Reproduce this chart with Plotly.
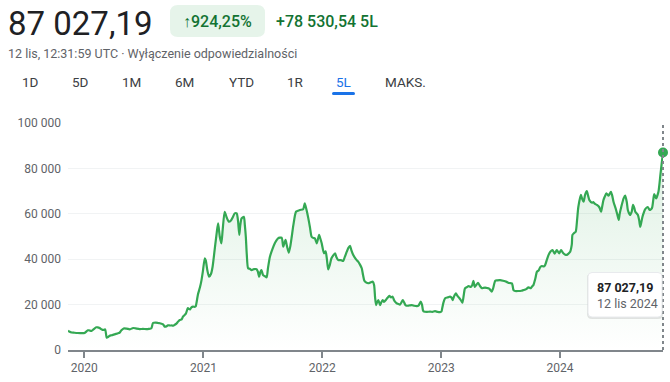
import plotly.graph_objects as go

dates = [
"2019-11-12","2019-11-17","2019-11-23","2019-12-02","2019-12-11","2019-12-24","2020-01-02","2020-01-12","2020-01-17","2020-01-23",
"2020-01-30","2020-02-07","2020-02-11","2020-02-17","2020-02-24","2020-02-28","2020-03-05","2020-03-10","2020-03-14","2020-03-19",
"2020-03-25","2020-04-03","2020-04-12","2020-04-18","2020-04-24","2020-05-01","2020-05-10","2020-05-20","2020-05-30","2020-06-07",
"2020-06-19","2020-06-29","2020-07-10","2020-07-17","2020-07-25","2020-07-30","2020-08-08","2020-08-15","2020-08-20","2020-08-25",
"2020-08-30","2020-09-04","2020-09-09","2020-09-14","2020-09-20","2020-09-26","2020-09-30","2020-10-05","2020-10-10","2020-10-15",
"2020-10-20","2020-10-26","2020-10-30","2020-11-04","2020-11-08","2020-11-14","2020-11-18","2020-11-21","2020-11-25","2020-11-30",
"2020-12-05","2020-12-08","2020-12-15","2020-12-21","2020-12-26","2020-12-30","2021-01-05","2021-01-08","2021-01-13","2021-01-18",
"2021-01-24","2021-01-29","2021-02-05","2021-02-11","2021-02-15","2021-02-20","2021-02-25","2021-03-01","2021-03-07","2021-03-13",
"2021-03-20","2021-03-27","2021-04-01","2021-04-07","2021-04-13","2021-04-17","2021-04-21","2021-04-24","2021-04-28","2021-05-05",
"2021-05-08","2021-05-11","2021-05-14","2021-05-18","2021-05-23","2021-05-29","2021-06-05","2021-06-13","2021-06-17","2021-06-21",
"2021-06-25","2021-06-28","2021-07-03","2021-07-09","2021-07-14","2021-07-18","2021-07-24","2021-08-01","2021-08-08","2021-08-18",
"2021-08-29","2021-09-03","2021-09-10","2021-09-14","2021-09-20","2021-09-25","2021-09-29","2021-10-04","2021-10-12","2021-10-18",
"2021-10-24","2021-11-03","2021-11-08","2021-11-13","2021-11-19","2021-11-24","2021-11-29","2021-12-05","2021-12-09","2021-12-15",
"2021-12-22","2021-12-26","2021-12-30","2022-01-06","2022-01-11","2022-01-15","2022-01-19","2022-01-24","2022-01-29","2022-02-09",
"2022-02-13","2022-02-19","2022-02-27","2022-03-06","2022-03-11","2022-03-17","2022-03-22","2022-03-27","2022-03-31","2022-04-06",
"2022-04-14","2022-04-21","2022-04-27","2022-05-02","2022-05-06","2022-05-10","2022-05-15","2022-05-22","2022-05-29","2022-06-05",
"2022-06-09","2022-06-12","2022-06-15","2022-06-18","2022-06-22","2022-06-27","2022-07-01","2022-07-05","2022-07-09","2022-07-15",
"2022-07-20","2022-07-26","2022-07-31","2022-08-05","2022-08-09","2022-08-12","2022-08-17","2022-08-22","2022-08-27","2022-09-01",
"2022-09-05","2022-09-09","2022-09-13","2022-09-17","2022-09-24","2022-10-03","2022-10-10","2022-10-18","2022-10-23","2022-10-30",
"2022-11-03","2022-11-06","2022-11-09","2022-11-18","2022-11-28","2022-12-05","2022-12-13","2022-12-21","2022-12-28","2023-01-02",
"2023-01-04","2023-01-08","2023-01-13","2023-01-21","2023-01-28","2023-02-02","2023-02-05","2023-02-09","2023-02-15","2023-02-20",
"2023-02-26","2023-03-03","2023-03-07","2023-03-11","2023-03-15","2023-03-22","2023-03-26","2023-04-02","2023-04-06","2023-04-10",
"2023-04-14","2023-04-19","2023-04-24","2023-05-01","2023-05-06","2023-05-11","2023-05-16","2023-05-21","2023-05-26","2023-05-31",
"2023-06-05","2023-06-09","2023-06-16","2023-06-22","2023-07-01","2023-07-10","2023-07-21","2023-07-29","2023-08-06","2023-08-08",
"2023-08-11","2023-08-16","2023-08-26","2023-09-04","2023-09-11","2023-09-19","2023-09-26","2023-10-03","2023-10-07","2023-10-11",
"2023-10-17","2023-10-22","2023-10-27","2023-11-01","2023-11-06","2023-11-12","2023-11-16","2023-11-22","2023-11-27","2023-12-02",
"2023-12-09","2023-12-15","2023-12-22","2023-12-29","2024-01-04","2024-01-11","2024-01-17","2024-01-22","2024-01-27","2024-02-01",
"2024-02-06","2024-02-08","2024-02-13","2024-02-18","2024-02-22","2024-02-26","2024-03-05","2024-03-09","2024-03-13","2024-03-18",
"2024-03-23","2024-03-27","2024-03-31","2024-04-08","2024-04-12","2024-04-16","2024-04-23","2024-04-30","2024-05-03","2024-05-06",
"2024-05-09","2024-05-13","2024-05-17","2024-05-22","2024-05-29","2024-06-05","2024-06-09","2024-06-13","2024-06-21","2024-06-25",
"2024-06-29","2024-07-02","2024-07-07","2024-07-14","2024-07-19","2024-07-24","2024-07-27","2024-08-03","2024-08-08","2024-08-12",
"2024-08-16","2024-08-19","2024-08-27","2024-08-31","2024-09-03","2024-09-06","2024-09-10","2024-09-14","2024-09-18","2024-09-26",
"2024-10-02","2024-10-09","2024-10-13","2024-10-16","2024-10-22","2024-10-29","2024-11-04","2024-11-07","2024-11-12",
]

prices = [
8497,8000,7700,7600,7500,7400,7500,8700,8600,8400,
9200,10000,10000,9700,9000,8800,9100,5400,5700,6300,
6500,6900,7300,7600,8700,9500,9400,9100,9700,9500,
9200,9300,9200,9300,9600,11900,12100,11900,11800,11600,
11300,10300,10400,10900,10800,10800,10700,11100,11600,12500,
13200,13500,14700,15400,16000,18500,18000,17900,18800,19100,
19000,19200,24500,27500,30800,34500,40400,39500,35000,32300,
33500,36700,45000,52000,55800,50000,47000,53000,60900,58500,
56500,57200,58500,60200,60200,57000,50700,55000,58000,58700,
55000,49900,42000,36000,35800,35200,35600,35600,34500,32300,
34500,35200,33000,32500,32000,36000,41100,44500,47000,49200,
49500,45500,48500,46000,42900,46000,49900,55000,60900,61300,
61700,62000,64600,62000,58000,54000,49900,49300,49200,47000,
50700,49000,47000,42600,43500,40000,35500,37500,40400,42600,
41000,39600,39600,39200,41000,43300,45000,45900,44000,41800,
40000,38900,37500,36000,33000,30500,29800,29400,29800,30100,
28500,23000,19800,21000,22000,19800,21000,22000,21200,22000,
23000,23800,23200,23500,22000,21300,20600,20300,20000,21000,
22000,21000,19800,19500,19600,19800,19500,19300,19500,21300,
20000,17500,16900,16800,16900,16800,17100,16800,16700,17000,
18400,21000,22800,23200,23500,23000,22000,23500,25000,23800,
22800,21800,20800,24000,27200,27800,28200,27800,28500,30500,
27800,28700,29600,28000,27200,27400,27500,27300,27200,26600,
25700,27000,30500,30700,30800,30500,30000,29500,29400,28500,
26400,26000,26000,26100,26400,26800,27600,27200,28000,28600,
31500,34500,35000,36500,37000,36800,37400,40000,42000,43300,
44000,42500,44000,42600,44000,42600,42000,41900,42500,43300,
46500,50700,51500,52100,57000,63000,68300,66500,65300,68500,
70000,68000,66000,64900,65200,64500,63900,63000,62000,60900,
63000,66000,67500,69000,68000,69700,68000,65300,61700,59500,
57300,60000,63100,66800,68000,65000,61700,59500,61000,63900,
62500,60900,59500,57000,54300,56000,58700,60500,62000,63000,
61700,62500,66000,68700,66800,69700,77100,81000,87027.19,
]

year_ticks = ["2020-01-01", "2021-01-01", "2022-01-01", "2023-01-01", "2024-01-01"]
year_labels = ["2020", "2021", "2022", "2023", "2024"]
y_ticks = [0, 20000, 40000, 60000, 80000, 100000]

price_text = "87 027,19"
pct_text = "↑924,25%"
change_text = "+78 530,54 5L"
subtitle_text = "12 lis, 12:31:59 UTC · Wyłączenie odpowiedzialności"
tabs = ["1D", "5D", "1M", "6M", "YTD", "1R", "5L", "MAKS."]
tab_x = [30, 80, 131, 184, 241, 295, 343.5, 405.5]
tooltip_value = "87 027,19"
tooltip_date = "12 lis 2024"

GREEN = "#34a853"
FONT = "Roboto"

# plot-area pixel geometry
L, R, T, B = 68, 663, 123, 350
W, H = 670, 382
PW, PH = R - L, B - T

def px(x, y):
    return dict(xref="paper", yref="paper", x=(x - L) / PW, y=(B - y) / PH)

def rounded_path(x0, y0, x1, y1, r):
    # pixel box -> paper-space path with rounded corners
    X = lambda v: (v - L) / PW
    Y = lambda v: (B - v) / PH
    return (f"M {X(x0 + r)},{Y(y0)} L {X(x1 - r)},{Y(y0)} Q {X(x1)},{Y(y0)} {X(x1)},{Y(y0 + r)} "
            f"L {X(x1)},{Y(y1 - r)} Q {X(x1)},{Y(y1)} {X(x1 - r)},{Y(y1)} "
            f"L {X(x0 + r)},{Y(y1)} Q {X(x0)},{Y(y1)} {X(x0)},{Y(y1 - r)} "
            f"L {X(x0)},{Y(y0 + r)} Q {X(x0)},{Y(y0)} {X(x0 + r)},{Y(y0)} Z")

fig = go.Figure()
fig.add_trace(go.Scatter(
    x=dates, y=prices, mode="lines",
    line=dict(color=GREEN, width=2.2, shape="spline", smoothing=0.6),
    fill="tozeroy",
    fillgradient=dict(type="vertical",
                      colorscale=[[0, "rgba(52,168,83,0.0)"], [1, "rgba(52,168,83,0.16)"]]),
    hoverinfo="skip", cliponaxis=False,
))
fig.add_trace(go.Scatter(
    x=[dates[-1]], y=[prices[-1]], mode="markers",
    marker=dict(color=GREEN, size=10),
    hoverinfo="skip", cliponaxis=False,
))

shapes = []
# dotted cursor line at the last point (paper x=1 is the last date)
shapes.append(dict(type="line", xref="paper", yref="paper", x0=1, x1=1, y0=0, y1=1,
                   line=dict(color="#80868b", width=2, dash="dot"), layer="above"))
# badge
shapes.append(dict(type="path", xref="paper", yref="paper", path=rounded_path(170, 5, 265, 37, 8),
                   fillcolor="#e6f4ea", line=dict(width=0), layer="below"))
# tab underline
shapes.append(dict(type="path", xref="paper", yref="paper", path=rounded_path(332, 92, 355, 95, 1.5),
                   fillcolor="#1a73e8", line=dict(width=0)))
# tooltip shadow + box
shapes.append(dict(type="path", xref="paper", yref="paper", path=rounded_path(587, 273, 663, 319, 5),
                   fillcolor="rgba(0,0,0,0.10)", line=dict(width=0), layer="above"))
shapes.append(dict(type="path", xref="paper", yref="paper", path=rounded_path(588, 272.5, 662, 317, 4),
                   fillcolor="white", line=dict(color="#e8eaed", width=1), layer="above"))
fig.update_layout(shapes=shapes)

anns = []
anns.append(dict(**px(6, 24), text=price_text, showarrow=False, xanchor="left", yanchor="middle",
                 font=dict(family=FONT, size=33, color="#202124")))
anns.append(dict(**px(217.5, 21), text=pct_text, showarrow=False, xanchor="center", yanchor="middle",
                 font=dict(family=FONT, size=16, color="#137333", weight=500)))
anns.append(dict(**px(274, 21.5), text=change_text, showarrow=False, xanchor="left", yanchor="middle",
                 font=dict(family=FONT, size=16, color="#137333", weight=500)))
anns.append(dict(**px(6, 53), text=subtitle_text, showarrow=False, xanchor="left", yanchor="middle",
                 font=dict(family=FONT, size=12.5, color="#5f6368")))
for t, tx in zip(tabs, tab_x):
    anns.append(dict(**px(tx, 82), text=t, showarrow=False, xanchor="center", yanchor="middle",
                     font=dict(family=FONT, size=13.5, color="#1a73e8" if t == "5L" else "#3c4043")))
anns.append(dict(**px(595, 287), text="<b>" + tooltip_value + "</b>", showarrow=False,
                 xanchor="left", yanchor="middle", font=dict(family=FONT, size=12.5, color="#202124")))
anns.append(dict(**px(595, 303), text=tooltip_date, showarrow=False,
                 xanchor="left", yanchor="middle", font=dict(family=FONT, size=12.5, color="#5f6368")))
fig.update_layout(annotations=anns)

fig.update_layout(
    width=W, height=H, autosize=False,
    margin=dict(l=L, r=W - R, t=T, b=H - B, pad=0),
    paper_bgcolor="white", plot_bgcolor="white",
    showlegend=False, separators=", ",
    font=dict(family=FONT, size=12, color="#5f6368"),
    xaxis=dict(type="date", range=[dates[0], dates[-1]], tickvals=year_ticks, ticktext=year_labels,
               showgrid=False, showline=True, linecolor="#80868b", linewidth=1.5,
               ticks="outside", ticklen=6, tickwidth=1.5, tickcolor="#80868b",
               tickfont=dict(family=FONT, size=12, color="#5f6368"), zeroline=False, fixedrange=True),
    yaxis=dict(range=[0, 100000], tickvals=y_ticks, tickformat=",d",
               showgrid=True, gridcolor="#f1f3f4", gridwidth=1, zeroline=False, showline=False,
               ticks="", tickfont=dict(family=FONT, size=12, color="#5f6368"), ticklabelstandoff=6,
               fixedrange=True),
)

fig.write_html("out.html", config={"displayModeBar": False},
               post_script="document.body.style.margin='0px';document.body.style.overflow='hidden';")
